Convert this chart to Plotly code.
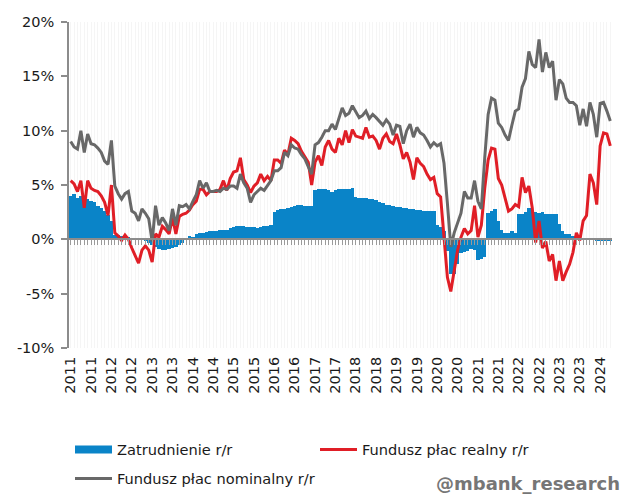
import plotly.graph_objects as go

# ---- data (monthly, Jan 2011 .. Apr 2024) ----
months = [f"{2011 + i // 12}-{i % 12 + 1:02d}" for i in range(160)]

employment = [
    4.0, 4.15, 3.85, 4.0, 3.55, 3.7, 3.55, 3.4, 3.1, 2.9,
    2.6, 2.2, 1.7, 0.4, 0.4, 0.3, 0.25, 0.2, 0.15, 0.15,
    0.1, 0.05, -0.1, -0.3, -0.5, -0.7, -0.9, -1.0, -0.95, -0.9,
    -0.8, -0.7, -0.5, -0.3, 0.1, 0.3, 0.2, 0.5, 0.6, 0.6,
    0.7, 0.75, 0.8, 0.8, 0.85, 0.9, 0.9, 1.0, 1.1, 1.2,
    1.2, 1.2, 1.15, 1.1, 1.1, 1.0, 1.1, 1.2, 1.2, 1.3,
    2.5, 2.7, 2.8, 2.8, 2.9, 3.0, 3.1, 3.2, 3.2, 3.1,
    3.1, 3.1, 4.5, 4.6, 4.6, 4.6, 4.5, 4.4, 4.5, 4.6,
    4.6, 4.6, 4.6, 4.7, 3.9, 3.85, 3.8, 3.8, 3.75, 3.7,
    3.6, 3.4, 3.3, 3.2, 3.2, 3.1, 3.0, 3.0, 2.9, 2.9,
    2.8, 2.8, 2.7, 2.7, 2.6, 2.6, 2.6, 2.6, 1.3, 1.1,
    0.8, -1.1, -3.2, -3.2, -2.3, -1.3, -1.2, -1.1, -0.9, -1.0,
    -1.9, -1.8, -1.6, 2.4, 2.6, 2.8, 1.7, 0.9, 0.6, 0.6,
    0.8, 0.6, 2.3, 2.3, 2.5, 2.9, 2.6, 2.5, 2.4, 2.5,
    2.3, 2.3, 2.3, 2.3, 1.4, 0.8, 0.5, 0.5, 0.3, 0.3,
    0.2, 0.1, 0.1, 0.0, -0.05, -0.1, -0.1, -0.1, -0.1, -0.15,
]

wage_real = [
    5.4, 5.1, 4.4, 5.4, 2.9, 5.4, 4.7, 4.5, 4.4, 4.0,
    3.4, 2.2, 5.0, 0.6, 0.3, -0.1, 0.4, 0.0, -0.8, -1.5,
    -2.2, -1.0, -0.6, -1.0, -2.1, 0.5, 0.2, 1.2, 0.9, 0.5,
    2.0, 0.5, 2.1, 2.3, 2.4, 2.7, 3.2, 3.5, 4.6, 4.6,
    4.1, 4.4, 4.4, 4.4, 4.6, 5.4, 4.5, 5.6, 6.2, 6.3,
    7.5, 5.5, 5.0, 4.3, 4.9, 5.2, 6.0, 5.4, 5.8, 5.4,
    7.3, 7.3, 7.0, 8.2, 7.8, 9.3, 9.1, 8.8, 8.1, 7.6,
    7.1, 5.0, 7.1, 7.7, 6.8, 8.5, 9.1, 8.3, 8.0, 9.3,
    8.7, 10.0, 8.9, 10.1, 9.5, 9.4, 9.3, 10.3, 9.4, 9.5,
    9.1, 8.3, 9.3, 9.7, 9.0, 8.8, 9.7, 8.7, 7.4, 8.0,
    7.1, 5.5, 7.5, 7.0, 6.7, 6.0, 5.5, 5.7, 4.2, 3.9,
    0.0, -3.5, -4.8, -2.9, -1.0, 0.2, 1.0, 0.5, 0.8, 3.1,
    0.2, 1.3, 4.7, 7.3, 8.4, 8.3, 5.6, 5.0, 3.8, 2.6,
    2.8, 3.2, 3.0, 5.7, 4.3, 4.9, 2.9, -0.3, 1.7, -0.8,
    -0.2, -2.0, -1.4, -3.8, -2.0, -3.8, -3.0, -2.3, -1.2, 0.6,
    -0.1, 1.7, 2.2, 6.0, 5.2, 3.2, 8.6, 9.8, 9.7, 8.6,
]

wage_nominal = [
    9.0, 8.5, 8.3, 10.0, 8.0, 9.7, 8.8, 8.7, 8.4, 8.0,
    7.2, 6.9, 9.1, 4.9, 4.2, 3.7, 4.2, 4.4, 2.6, 2.4,
    1.7, 2.8, 2.4, 1.9, -0.2, 3.1, 1.3, 2.0, 1.5, 0.8,
    2.8, 1.3, 3.1, 3.0, 3.2, 2.8, 3.5, 4.1, 5.4, 4.7,
    5.2, 4.4, 4.4, 4.5, 4.4, 4.7, 4.6, 4.9, 4.9, 4.7,
    6.0, 5.2, 4.7, 3.4, 4.1, 4.4, 4.7, 4.5, 5.0, 5.4,
    6.3, 6.3, 6.6, 8.0, 7.7, 8.7, 8.4, 8.3, 7.8, 7.4,
    6.7, 6.0, 8.7, 8.9, 9.4, 10.0, 10.0, 10.6, 10.1, 11.1,
    12.1, 11.4, 11.6, 12.3, 11.7, 11.2, 11.4, 11.8, 11.1, 11.5,
    11.2, 10.8, 10.5, 11.0, 10.6, 9.6, 10.5, 10.4, 8.8, 10.0,
    10.6, 9.4, 10.3, 9.8, 9.6, 9.1, 8.5, 8.9, 8.6, 8.8,
    7.0, 3.3, -0.7, 0.6, 1.6, 2.4, 4.4, 3.8, 3.8, 5.4,
    3.5, 2.8, 7.5, 11.5, 13.0, 12.8, 10.7, 10.3, 9.6, 9.1,
    10.5, 11.8, 12.0, 14.0, 14.8, 17.3, 16.1, 15.8, 18.4, 15.4,
    17.2, 15.8, 16.4, 12.8, 14.7, 14.3, 13.0, 12.6, 12.6, 12.3,
    10.5, 12.0, 10.4, 12.6, 11.5, 9.4, 12.5, 12.6, 11.8, 10.9,
]

y_ticks = [-10, -5, 0, 5, 10, 15, 20]
y_tick_labels = [f"{v}%" for v in y_ticks]

x_idx = list(range(len(months)))
x_tick_vals = [i for i, m in enumerate(months) if m.endswith("-01") or m.endswith("-07")]
x_tick_labels = [months[i][:4] for i in x_tick_vals]

BLUE = "#0a84c8"
RED = "#e01e26"
GRAY = "#686868"
AXIS = "#8c8c8c"
FONT = "DejaVu Sans"
W, H = 635, 496
ML, MR, MT, MB = 69, 23, 22, 148

fig = go.Figure()
fig.add_trace(go.Bar(x=x_idx, y=employment, marker=dict(color=BLUE, line=dict(width=0)),
                     width=1.0, showlegend=False, hoverinfo="skip"))
fig.add_trace(go.Scatter(x=x_idx, y=wage_real, mode="lines", line=dict(color=RED, width=3),
                         name="Fundusz płac realny r/r", legend="legend2"))
fig.add_trace(go.Scatter(x=x_idx, y=wage_nominal, mode="lines", line=dict(color=GRAY, width=3),
                         name="Fundusz płac nominalny r/r", legend="legend3"))
# legend swatch for the bars (wide rectangle)
fig.add_trace(go.Scatter(x=[None], y=[None], mode="lines", line=dict(color=BLUE, width=8),
                         name="Zatrudnienie r/r", legend="legend"))
# helper trace for the zero-line axis with monthly ticks / grid
fig.add_trace(go.Scatter(x=[x_idx[0], x_idx[-1]], y=[None, None], xaxis="x2", mode="lines",
                         showlegend=False, hoverinfo="skip"))

leg_common = dict(xref="container", yref="container", xanchor="left", yanchor="middle",
                  orientation="h", bgcolor="rgba(0,0,0,0)", borderwidth=0,
                  font=dict(family=FONT, size=14.6, color="#1a1a1a"), itemwidth=37)

fig.update_layout(
    width=W, height=H,
    margin=dict(l=ML, r=MR, t=MT, b=MB, pad=0, autoexpand=False),
    paper_bgcolor="white", plot_bgcolor="white",
    font=dict(family=FONT, size=14.5, color="#1a1a1a"),
    bargap=0,
    xaxis=dict(range=[-0.5, len(months) - 0.5], tickmode="array", tickvals=x_tick_vals,
               ticktext=x_tick_labels, tickangle=-90, showgrid=False, showline=False,
               zeroline=False, ticks="", ticklabelstandoff=5, automargin=False,
               tickfont=dict(family=FONT, size=14.5, color="#1a1a1a")),
    xaxis2=dict(range=[-0.5, len(months) - 0.5], overlaying="x", anchor="free",
                position=1/3, side="bottom", tickmode="linear", tick0=0, dtick=1,
                showticklabels=False, ticks="outside", ticklen=5, tickwidth=1,
                tickcolor="#9a9a9a", showline=True, linecolor=AXIS, linewidth=2,
                showgrid=True, gridcolor="rgba(0,0,0,0.04)", gridwidth=1, zeroline=False,
                automargin=False),
    yaxis=dict(range=[-10, 20], tickmode="array", tickvals=y_ticks, ticktext=y_tick_labels,
               showgrid=False, zeroline=False, showline=True, linecolor=AXIS, linewidth=1.5,
               ticks="outside", ticklen=6, tickwidth=1.5, tickcolor=AXIS, automargin=False,
               ticklabelstandoff=4, tickfont=dict(family=FONT, size=14.5, color="#1a1a1a")),
    legend=dict(x=70 / W, y=1 - 449.5 / H, **leg_common),
    legend2=dict(x=315 / W, y=1 - 449.5 / H, **leg_common),
    legend3=dict(x=70 / W, y=1 - 478.5 / H, **leg_common),
    annotations=[dict(text="<b>@mbank_research</b>", xref="paper", yref="paper",
                      x=(622 - ML) / (W - ML - MR), y=-(483.5 - (H - MB)) / (H - MT - MB),
                      xanchor="right", yanchor="middle", showarrow=False,
                      font=dict(family=FONT, size=18, color="#767676"))],
)

fig.write_html("out.html", config={"displayModeBar": False},
               post_script="document.body.style.margin='0px';"
                           "document.body.style.overflow='hidden';")
